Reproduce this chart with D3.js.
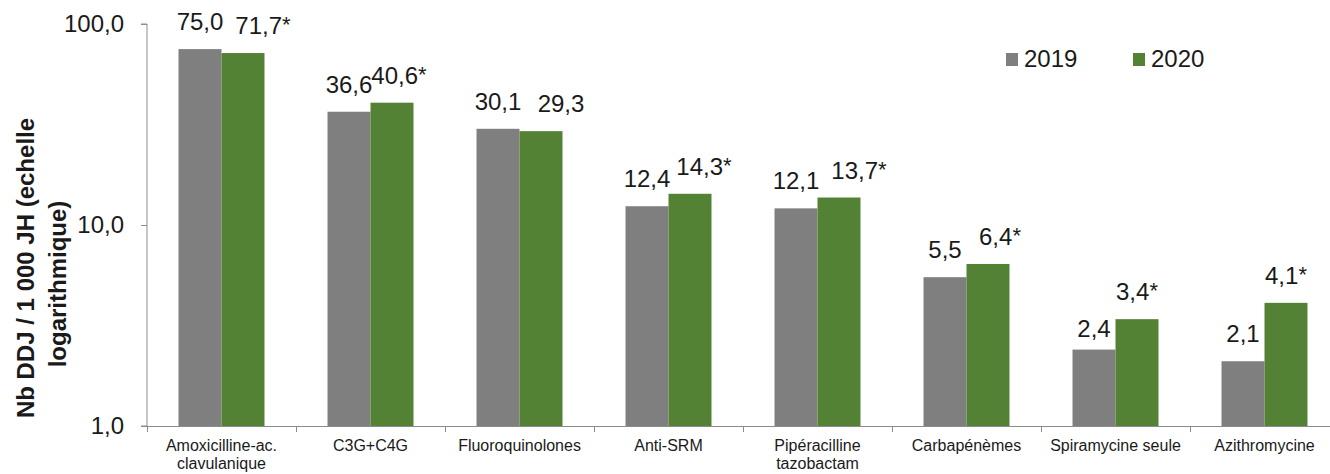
<!DOCTYPE html>
<html lang="fr">
<head>
<meta charset="utf-8">
<script src="https://cdn.jsdelivr.net/npm/d3@7"></script>
<style>
  html, body { margin: 0; padding: 0; background: #fff; }
  svg { display: block; font-family: "Liberation Sans", Arial, sans-serif; }
</style>
</head>
<body>
<svg id="chart" width="1330" height="474"></svg>
<script>
// Antibiotic consumption, DDJ per 1 000 patient-days (log scale)
const categories = [
  "Amoxicilline-ac. clavulanique",
  "C3G+C4G",
  "Fluoroquinolones",
  "Anti-SRM",
  "Pipéracilline tazobactam",
  "Carbapénèmes",
  "Spiramycine seule",
  "Azithromycine"
];
const series = ["2019", "2020"];
const values2019 = [75.0, 36.6, 30.1, 12.4, 12.1, 5.5, 2.4, 2.1];
const values2020 = [71.7, 40.6, 29.3, 14.3, 13.7, 6.4, 3.4, 4.1];
// "*" marks a significant change between the two years
const significant2020 = [true, true, false, true, true, true, true, true];
const yTicks = [1, 10, 100];

// Label placement tweaks (px) for the value labels
const label2020Shift = [20, 7, 20, 14, 20, 12, 0, 0];
const label2019Drop = [0, 0, 0, 0, 0, 0, 6, 0];

const colors = { "2019": "#7f7f7f", "2020": "#548235" };
const axisColor = "#8c8c8c";
const fmt = v => v.toFixed(1).replace(".", ",");

const svg = d3.select("#chart");
const margin = { left: 147, top: 24, bottom: 426 };
const bandW = 149;

const x = d3.scaleBand()
  .domain(categories)
  .range([margin.left, margin.left + bandW * categories.length])
  .paddingInner(0).paddingOuter(0);

const xInner = d3.scaleBand()
  .domain(series)
  .range([0, x.bandwidth()])
  .paddingInner(0)
  .paddingOuter(0.733);

const y = d3.scaleLog()
  .domain([1, 100])
  .range([margin.bottom, margin.top]);

const rows = categories.map((c, i) => ({
  cat: c, i,
  vals: [
    { s: "2019", v: values2019[i], label: fmt(values2019[i]), star: false, shift: 0, drop: label2019Drop[i] },
    { s: "2020", v: values2020[i], label: fmt(values2020[i]), star: significant2020[i], shift: label2020Shift[i], drop: 0 }
  ]
}));

// Bars
const groups = svg.append("g").selectAll("g")
  .data(rows).join("g")
  .attr("transform", d => `translate(${x(d.cat)},0)`);

groups.selectAll("rect")
  .data(d => d.vals).join("rect")
  .attr("x", d => xInner(d.s))
  .attr("y", d => y(d.v))
  .attr("width", xInner.bandwidth())
  .attr("height", d => y(1) - y(d.v))
  .attr("fill", d => colors[d.s]);

// Value labels
const vl = groups.selectAll("text.val")
  .data(d => d.vals).join("text")
  .attr("class", "val")
  .attr("x", d => xInner(d.s) + xInner.bandwidth() / 2 + d.shift)
  .attr("y", d => y(d.v) - 19 + d.drop)
  .attr("text-anchor", "middle")
  .attr("font-size", 24)
  .attr("fill", "#1a1a1a");
vl.append("tspan").text(d => d.label);
vl.filter(d => d.star).append("tspan")
  .attr("font-size", 22)
  .attr("dy", -2)
  .text("*");

// Y axis
const yAxis = d3.axisLeft(y)
  .tickValues(yTicks)
  .tickFormat(fmt)
  .tickSize(6)
  .tickPadding(17);

const gy = svg.append("g")
  .attr("transform", `translate(${margin.left},0)`)
  .call(yAxis);
gy.select(".domain").attr("stroke", axisColor).attr("d", `M-6,${margin.top}H0V${margin.bottom}H-6`);
gy.selectAll(".tick line").attr("stroke", axisColor);
gy.selectAll(".tick text")
  .attr("font-size", 24)
  .attr("fill", "#1a1a1a")
  .attr("font-family", "Liberation Sans, Arial, sans-serif");

// X axis: line plus ticks at category boundaries
const gx = svg.append("g");
gx.append("line")
  .attr("x1", margin.left - 6).attr("x2", 1330)
  .attr("y1", margin.bottom + 0.5).attr("y2", margin.bottom + 0.5)
  .attr("stroke", axisColor);
const boundaries = d3.range(categories.length + 1).map(i => margin.left + i * x.step());
gx.selectAll("line.b")
  .data(boundaries).join("line")
  .attr("class", "b")
  .attr("x1", d => Math.round(d) + 0.5).attr("x2", d => Math.round(d) + 0.5)
  .attr("y1", margin.bottom).attr("y2", margin.bottom + 6)
  .attr("stroke", axisColor);

// Category labels, wrapped to the band width
const catText = gx.selectAll("text.cat")
  .data(categories).join("text")
  .attr("class", "cat")
  .attr("text-anchor", "middle")
  .attr("font-size", 16)
  .attr("fill", "#1a1a1a")
  .attr("x", d => x(d) + x.bandwidth() / 2)
  .attr("y", 451);

catText.each(function (d) {
  const t = d3.select(this);
  const words = d.split(" ");
  let line = [];
  let tspan = t.append("tspan").attr("x", t.attr("x")).attr("dy", 0);
  words.forEach(w => {
    line.push(w);
    tspan.text(line.join(" "));
    if (tspan.node().getComputedTextLength() > 140 && line.length > 1) {
      line.pop();
      tspan.text(line.join(" "));
      line = [w];
      tspan = t.append("tspan").attr("x", t.attr("x")).attr("dy", 18).text(w);
    }
  });
});

// Y axis title (two lines, rotated)
const title = svg.append("g").attr("font-weight", "bold").attr("font-size", 24).attr("fill", "#1a1a1a");
title.append("text")
  .attr("transform", "translate(34,268) rotate(-90)")
  .attr("text-anchor", "middle")
  .text("Nb DDJ / 1 000 JH (echelle");
title.append("text")
  .attr("transform", "translate(66,284) rotate(-90)")
  .attr("text-anchor", "middle")
  .text("logarithmique)");

// Legend
const legend = svg.append("g").selectAll("g")
  .data(series).join("g")
  .attr("transform", (d, i) => `translate(${1006 + i * 127},53)`);
legend.append("rect")
  .attr("width", 12).attr("height", 13)
  .attr("fill", d => colors[d]);
legend.append("text")
  .attr("x", 18).attr("y", 14)
  .attr("font-size", 24)
  .attr("fill", "#1a1a1a")
  .text(d => d);
</script>
</body>
</html>
